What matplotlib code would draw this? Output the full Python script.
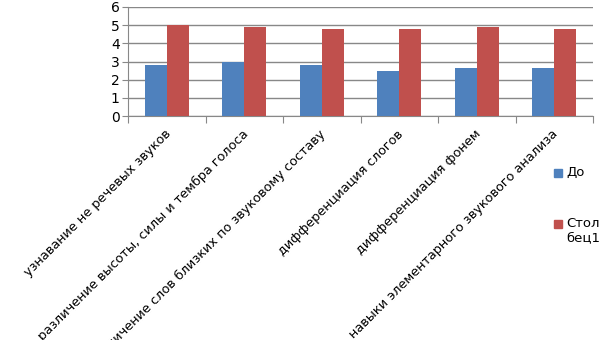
#!/usr/bin/env python3
import matplotlib
matplotlib.use('Agg')
import matplotlib.pyplot as plt
import matplotlib.transforms as mtransforms
from matplotlib.patches import Rectangle
import numpy as np

categories = ['узнавание не речевых звуков',
              'различение высоты, силы и тембра голоса',
              'различение слов близких по звуковому составу',
              'дифференциация слогов',
              'дифференциация фонем',
              'навыки элементарного звукового анализа']
do_vals = [2.8, 3.0, 2.8, 2.5, 2.65, 2.65]
col1_vals = [5.0, 4.9, 4.8, 4.8, 4.9, 4.8]
series_names = ['До', 'Стол\nбец1']

blue = '#4f81bd'
red = '#c0504d'
grid = '#888888'

W, H = 605, 340
fig = plt.figure(figsize=(W/100, H/100), dpi=100)
ax = fig.add_axes([128/W, 1-116/H, (593-128)/W, (116-7)/H])

x = np.arange(len(categories))
w = 1/3.5
ax.bar(x - w/2, do_vals, w, color=blue, zorder=3)
ax.bar(x + w/2, col1_vals, w, color=red, zorder=3)

ax.set_xlim(-0.5, len(categories)-0.5)
ax.set_ylim(0, 6)
ax.set_yticks(range(0, 7))
ax.yaxis.grid(True, color=grid, linewidth=1, zorder=0)
for s in ['top', 'right']:
    ax.spines[s].set_visible(False)
ax.spines['left'].set_color(grid)
ax.spines['bottom'].set_color(grid)
ax.tick_params(axis='y', length=4, color=grid, labelsize=10, pad=2)

# category ticks at boundaries, labels at centers
ax.set_xticks(np.arange(-0.5, len(categories)), minor=False)
ax.set_xticklabels([])
ax.tick_params(axis='x', length=5, color=grid, direction='out')
ax.set_xticks(x, minor=True)
ax.set_xticklabels(categories, minor=True, rotation=45, ha='right',
                   va='center', rotation_mode='anchor', fontsize=9.3)
ax.tick_params(axis='x', which='minor', length=0, pad=0)
offset = mtransforms.ScaledTranslation(2/100, -16/100, fig.dpi_scale_trans)
for lbl in ax.get_xticklabels(minor=True):
    lbl.set_transform(lbl.get_transform() + offset)

# legend, placed by hand so the marker sits on the first text line
colors = [blue, red]
ys = [173, 224]
for name, c, yc in zip(series_names, colors, ys):
    fig.patches.append(Rectangle((554/W, 1-(yc+4)/H), 8/W, 8/H,
                                 color=c, transform=fig.transFigure))
    fig.text(566/W, 1-(yc-7)/H, name, fontsize=9.5, va='top', ha='left',
             linespacing=1.15)

fig.savefig('out.png', dpi=100)
